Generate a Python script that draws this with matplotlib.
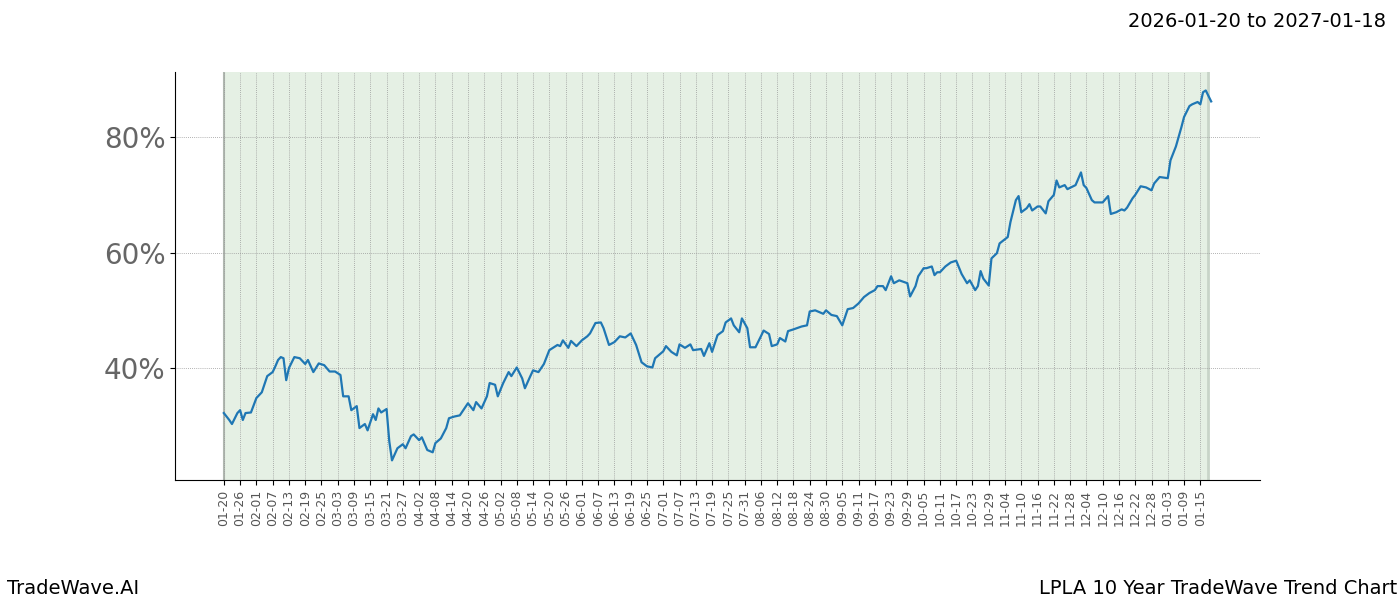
import matplotlib
matplotlib.use("Agg")
import matplotlib.pyplot as plt
import numpy as np
import datetime as dt

start = dt.date(2026, 1, 20)
days = [0,2,3,5,6,7,8,10,12,14,16,18,19,20,21,22,23,24,26,28,30,31,33,35,37,39,41,43,44,46,47,49,50,52,53,55,56,57,58,60,61,62,64,66,67,69,70,72,73,75,77,78,80,82,83,85,87,89,90,92,93,95,97,98,100,101,103,105,106,108,110,111,113,114,116,118,120,123,124,125,127,128,130,132,134,135,137,139,140,142,144,146,148,150,152,154,156,158,159,162,163,165,167,168,170,172,173,176,177,179,180,182,184,185,187,188,190,191,193,194,196,198,199,201,202,204,205,207,208,210,213,215,216,218,221,222,224,226,228,230,232,234,236,238,240,241,243,244,246,247,249,252,253,255,256,258,259,261,262,263,264,266,268,270,272,274,275,277,278,279,280,282,283,285,286,289,290,292,293,294,296,297,298,300,301,303,304,306,307,308,310,311,314,316,317,318,320,321,323,324,326,327,329,331,332,333,335,336,338,340,342,343,345,348,349,351,353,354,356,357,359,360,361,362,364]
values = [32.2,31.0,30.3,32.2,32.7,31.0,32.2,32.3,34.8,35.8,38.6,39.3,40.3,41.4,41.9,41.7,37.9,40.0,41.9,41.7,40.7,41.4,39.3,40.8,40.5,39.4,39.4,38.8,35.1,35.1,32.7,33.4,29.6,30.3,29.2,32.0,31.0,33.0,32.3,32.9,27.3,24.0,26.1,26.8,26.1,28.2,28.5,27.5,28.0,25.8,25.4,27.0,27.8,29.6,31.3,31.6,31.8,33.2,33.9,32.7,34.1,33.0,35.1,37.4,37.1,35.1,37.4,39.3,38.6,40.1,38.2,36.5,38.6,39.6,39.3,40.7,43.1,44.0,43.8,44.8,43.5,44.7,43.8,44.8,45.5,46.0,47.8,47.9,46.9,44.0,44.5,45.5,45.3,46.0,44.0,41.0,40.3,40.1,41.7,42.9,43.8,42.8,42.2,44.1,43.5,44.1,43.1,43.3,42.1,44.3,42.8,45.7,46.4,47.9,48.6,47.4,46.2,48.6,46.9,43.6,43.6,45.5,46.5,45.9,43.8,44.1,45.2,44.6,46.4,46.7,47.2,47.4,49.8,50.0,49.4,50.0,49.2,49.0,47.4,50.2,50.4,51.2,52.3,53.0,53.5,54.2,54.2,53.5,55.9,54.7,55.2,54.7,52.4,54.2,55.9,57.3,57.3,57.6,56.1,56.6,56.6,57.6,58.3,58.6,56.3,54.7,55.2,53.5,54.2,56.8,55.5,54.3,59.0,59.9,61.6,62.7,65.3,69.1,69.8,67.0,67.7,68.4,67.3,68.0,68.0,66.8,68.9,70.0,72.5,71.3,71.7,71.0,71.7,73.9,71.7,71.2,69.1,68.7,68.7,68.7,69.8,66.7,67.0,67.5,67.3,67.8,69.4,70.0,71.5,71.3,70.8,72.0,73.1,72.9,76.0,78.4,81.7,83.5,85.4,85.7,86.1,85.7,87.8,88.1,86.2]
yticks = [40, 60, 80]
tick_days = list(range(0, 361, 6))
tick_labels = [(start + dt.timedelta(days=d)).strftime("%m-%d") for d in tick_days]

fig = plt.figure(figsize=(14, 6), dpi=100)
ax = fig.add_axes([0.125, 0.2, 0.775, 0.68])
ax.axvspan(0, 363, color="#e5f0e4", zorder=0)
ax.axvline(0, color="#b0b8b0", lw=1.5, zorder=0.5)
ax.axvline(363, color="#c8d4c8", lw=2, zorder=0.5)
ax.plot(days, values, color="#1f77b4", lw=1.6, zorder=3)
ax.set_xlim(-18, 382)
ax.set_ylim(20.6, 91.3)
ax.set_xticks(tick_days)
ax.set_xticklabels(tick_labels, rotation=90, fontsize=9, color="#555555")
ax.set_yticks(yticks)
ax.set_yticklabels([f"{v}%" for v in yticks], fontsize=20, color="#666666")
for d in tick_days:
    ax.axvline(d, color="#999999", lw=0.6, ls=(0, (1, 1.5)), zorder=1)
ax.grid(axis="y", color="#999999", lw=0.6, ls=(0, (1, 1.5)))
ax.set_axisbelow(True)
for s in ["top", "right"]:
    ax.spines[s].set_visible(False)
fig.text(0.99, 0.98, "2026-01-20 to 2027-01-18", ha="right", va="top", fontsize=14)
fig.text(0.005, 0.02, "TradeWave.AI", ha="left", va="center", fontsize=14)
fig.text(0.998, 0.02, "LPLA 10 Year TradeWave Trend Chart", ha="right", va="center", fontsize=14)
fig.savefig("out.png")
